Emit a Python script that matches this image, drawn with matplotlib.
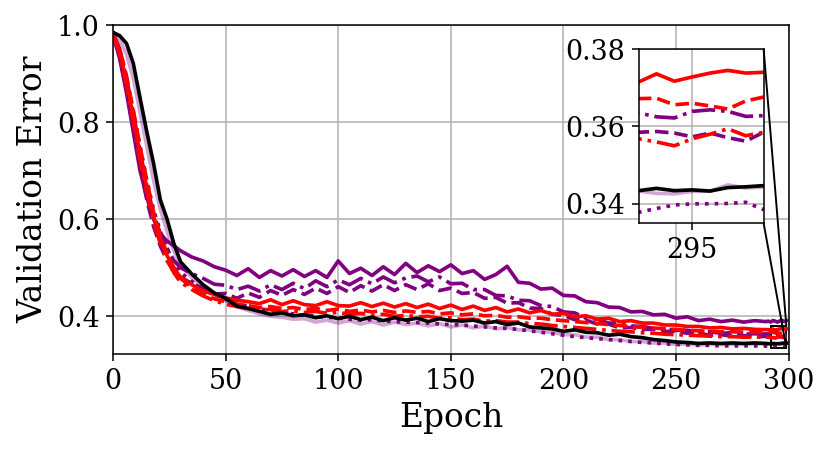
import matplotlib

matplotlib.use("Agg")
import matplotlib.pyplot as plt
from mpl_toolkits.axes_grid1.inset_locator import mark_inset

plt.rcParams["font.family"] = ["DejaVu Serif"]
plt.rcParams["font.size"] = 14

# sampled epochs: coarse early/mid, every epoch at the end (shown in the inset)
epochs = list(range(0, 31, 3)) + list(range(35, 291, 5)) + list(range(291, 300))

purple_solid = [
    0.980, 0.930, 0.860, 0.780, 0.700, 0.645, 0.600, 0.570, 0.555, 0.545, 0.535,
    0.522, 0.514, 0.502, 0.495, 0.484, 0.498, 0.480, 0.494, 0.483, 0.496,
    0.482, 0.494, 0.480, 0.514, 0.488, 0.499, 0.484, 0.502, 0.486, 0.509,
    0.490, 0.504, 0.492, 0.506, 0.488, 0.494, 0.476, 0.486, 0.503, 0.470,
    0.468, 0.456, 0.458, 0.443, 0.442, 0.430, 0.428, 0.419, 0.418, 0.409,
    0.410, 0.403, 0.404, 0.396, 0.399, 0.391, 0.394, 0.389, 0.392, 0.388,
    0.391, 0.389,
    0.390, 0.388, 0.391, 0.390, 0.388, 0.390, 0.392, 0.389, 0.391,
]
purple_dashdot = [
    0.985, 0.950, 0.890, 0.820, 0.740, 0.670, 0.610, 0.570, 0.540, 0.515, 0.500,
    0.488, 0.478, 0.466, 0.464, 0.455, 0.462, 0.452, 0.465, 0.455, 0.468,
    0.457, 0.473, 0.461, 0.475, 0.465, 0.478, 0.467, 0.481, 0.469, 0.479,
    0.483, 0.471, 0.481, 0.467, 0.468, 0.455, 0.455, 0.443, 0.442, 0.433,
    0.432, 0.422, 0.420, 0.409, 0.407, 0.396, 0.394, 0.386, 0.386, 0.380,
    0.379, 0.375, 0.375, 0.371, 0.371, 0.367, 0.368, 0.365, 0.366, 0.363,
    0.364, 0.3635,
    0.3638, 0.3635, 0.3625, 0.3622, 0.3639, 0.3643, 0.3639, 0.3626, 0.3628,
]
purple_dashed = [
    0.980, 0.935, 0.870, 0.790, 0.710, 0.640, 0.585, 0.545, 0.515, 0.495, 0.480,
    0.468, 0.457, 0.446, 0.447, 0.437, 0.448, 0.439, 0.453, 0.443, 0.455,
    0.445, 0.458, 0.447, 0.461, 0.449, 0.463, 0.452, 0.465, 0.453, 0.465,
    0.455, 0.467, 0.453, 0.458, 0.447, 0.449, 0.437, 0.439, 0.427, 0.428,
    0.417, 0.416, 0.404, 0.402, 0.393, 0.392, 0.384, 0.384, 0.376, 0.377,
    0.373, 0.373, 0.369, 0.369, 0.365, 0.365, 0.361, 0.362, 0.359, 0.360,
    0.358, 0.3585,
    0.3584, 0.3585, 0.3587, 0.3583, 0.3573, 0.3583, 0.3571, 0.3562, 0.3585,
]
purple_dotted = [
    0.980, 0.945, 0.890, 0.820, 0.750, 0.680, 0.620, 0.575, 0.540, 0.510, 0.490,
    0.472, 0.455, 0.445, 0.435, 0.428, 0.420, 0.415, 0.412, 0.408, 0.405,
    0.402, 0.400, 0.398, 0.396, 0.394, 0.392, 0.393, 0.390, 0.389, 0.388,
    0.387, 0.386, 0.384, 0.383, 0.382, 0.380, 0.378, 0.376, 0.375, 0.373,
    0.370, 0.367, 0.364, 0.361, 0.358, 0.356, 0.354, 0.352, 0.350, 0.348,
    0.346, 0.345, 0.343, 0.342, 0.341, 0.340, 0.340, 0.339, 0.339, 0.339,
    0.339, 0.3385,
    0.3380, 0.3378, 0.3388, 0.3397, 0.3400, 0.3400, 0.3401, 0.3404, 0.3385,
]
purple_light = [
    0.985, 0.970, 0.940, 0.890, 0.820, 0.750, 0.680, 0.620, 0.575, 0.535, 0.505,
    0.480, 0.462, 0.445, 0.432, 0.420, 0.412, 0.405, 0.400, 0.398, 0.394,
    0.395, 0.388, 0.392, 0.386, 0.391, 0.384, 0.389, 0.382, 0.388, 0.383,
    0.386, 0.380, 0.385, 0.378, 0.382, 0.376, 0.380, 0.374, 0.377, 0.372,
    0.372, 0.368, 0.367, 0.362, 0.362, 0.357, 0.357, 0.352, 0.352, 0.348,
    0.348, 0.345, 0.345, 0.342, 0.343, 0.341, 0.342, 0.342, 0.342, 0.343,
    0.343, 0.3432,
    0.3433, 0.3433, 0.3427, 0.3426, 0.3432, 0.3433, 0.3449, 0.3441, 0.3443,
]
red_solid = [
    0.980, 0.945, 0.885, 0.810, 0.735, 0.665, 0.605, 0.560, 0.525, 0.500, 0.480,
    0.465, 0.452, 0.445, 0.438, 0.433, 0.430, 0.426, 0.434, 0.424, 0.432,
    0.424, 0.422, 0.430, 0.422, 0.421, 0.428, 0.420, 0.427, 0.419, 0.426,
    0.418, 0.425, 0.416, 0.423, 0.414, 0.421, 0.412, 0.418, 0.409, 0.415,
    0.407, 0.412, 0.404, 0.406, 0.399, 0.401, 0.394, 0.396, 0.389, 0.391,
    0.386, 0.386, 0.382, 0.382, 0.379, 0.379, 0.376, 0.377, 0.374, 0.375,
    0.373, 0.3725,
    0.3725, 0.3715, 0.3736, 0.3717, 0.3728, 0.3738, 0.3745, 0.3738, 0.3740,
]
red_dashed = [
    0.980, 0.950, 0.895, 0.825, 0.750, 0.680, 0.615, 0.565, 0.530, 0.500, 0.478,
    0.460, 0.445, 0.436, 0.430, 0.425, 0.422, 0.418, 0.420, 0.416, 0.418,
    0.414, 0.416, 0.412, 0.415, 0.410, 0.413, 0.409, 0.412, 0.408, 0.411,
    0.408, 0.410, 0.405, 0.407, 0.403, 0.405, 0.401, 0.402, 0.398, 0.399,
    0.396, 0.396, 0.393, 0.391, 0.389, 0.387, 0.385, 0.383, 0.381, 0.379,
    0.377, 0.376, 0.374, 0.373, 0.371, 0.370, 0.369, 0.368, 0.368, 0.367,
    0.367, 0.3670,
    0.3671, 0.3672, 0.3673, 0.3656, 0.3660, 0.3653, 0.3645, 0.3666, 0.3676,
]
red_dashdot = [
    0.980, 0.940, 0.875, 0.800, 0.720, 0.655, 0.595, 0.550, 0.515, 0.490, 0.470,
    0.455, 0.442, 0.432, 0.425, 0.420, 0.416, 0.413, 0.414, 0.410, 0.411,
    0.408, 0.410, 0.406, 0.408, 0.404, 0.406, 0.402, 0.404, 0.400, 0.402,
    0.399, 0.400, 0.396, 0.397, 0.393, 0.394, 0.390, 0.391, 0.388, 0.388,
    0.385, 0.384, 0.381, 0.379, 0.377, 0.375, 0.373, 0.371, 0.369, 0.368,
    0.366, 0.365, 0.363, 0.362, 0.361, 0.360, 0.359, 0.358, 0.358, 0.357,
    0.357, 0.3570,
    0.3565, 0.3568, 0.3560, 0.3550, 0.3568, 0.3580, 0.3594, 0.3576, 0.3585,
]
black_solid = [
    0.985, 0.978, 0.962, 0.921, 0.850, 0.780, 0.715, 0.640, 0.600, 0.550, 0.512,
    0.487, 0.465, 0.448, 0.437, 0.421, 0.416, 0.410, 0.404, 0.407, 0.401,
    0.403, 0.397, 0.401, 0.395, 0.400, 0.393, 0.398, 0.391, 0.397, 0.392,
    0.396, 0.389, 0.395, 0.391, 0.390, 0.392, 0.386, 0.389, 0.383, 0.386,
    0.378, 0.376, 0.374, 0.369, 0.372, 0.367, 0.366, 0.361, 0.363, 0.358,
    0.356, 0.352, 0.350, 0.347, 0.346, 0.344, 0.345, 0.344, 0.345, 0.344,
    0.345, 0.344,
    0.3436, 0.3434, 0.3440, 0.3434, 0.3436, 0.3433, 0.3442, 0.3444, 0.3447,
]

series = [
    (purple_light, "purple", "-", 0.35),
    (purple_solid, "purple", "-", 1.0),
    (purple_dashdot, "purple", "-.", 1.0),
    (purple_dashed, "purple", "--", 1.0),
    (purple_dotted, "purple", ":", 1.0),
    (red_solid, "red", "-", 1.0),
    (red_dashed, "red", "--", 1.0),
    (red_dashdot, "red", "-.", 1.0),
    (black_solid, "black", "-", 1.0),
]

fig, ax = plt.subplots(figsize=(6, 3.25), dpi=138.5)
fig.subplots_adjust(left=0.136, right=0.949, top=0.944, bottom=0.213)

axins = ax.inset_axes([0.778, 0.398, 0.185, 0.529])
for values, color, style, alpha in series:
    for target in (ax, axins):
        target.plot(epochs, values, color=color, linestyle=style, alpha=alpha, linewidth=1.9)

ax.set_xlim(0, 300)
ax.set_ylim(0.322, 1.0)
ax.set_xticks([0, 50, 100, 150, 200, 250, 300])
ax.set_yticks([0.4, 0.6, 0.8, 1.0])
ax.set_xlabel("Epoch", fontsize=17)
ax.set_ylabel("Validation Error", fontsize=17)
ax.grid(True)

axins.set_xlim(292, 299)
axins.set_ylim(0.335, 0.38)
axins.set_xticks([295])
axins.set_yticks([0.34, 0.36, 0.38])
axins.grid(True)
mark_inset(ax, axins, loc1=1, loc2=4, fc="none", ec="0")

fig.savefig("out.png")
